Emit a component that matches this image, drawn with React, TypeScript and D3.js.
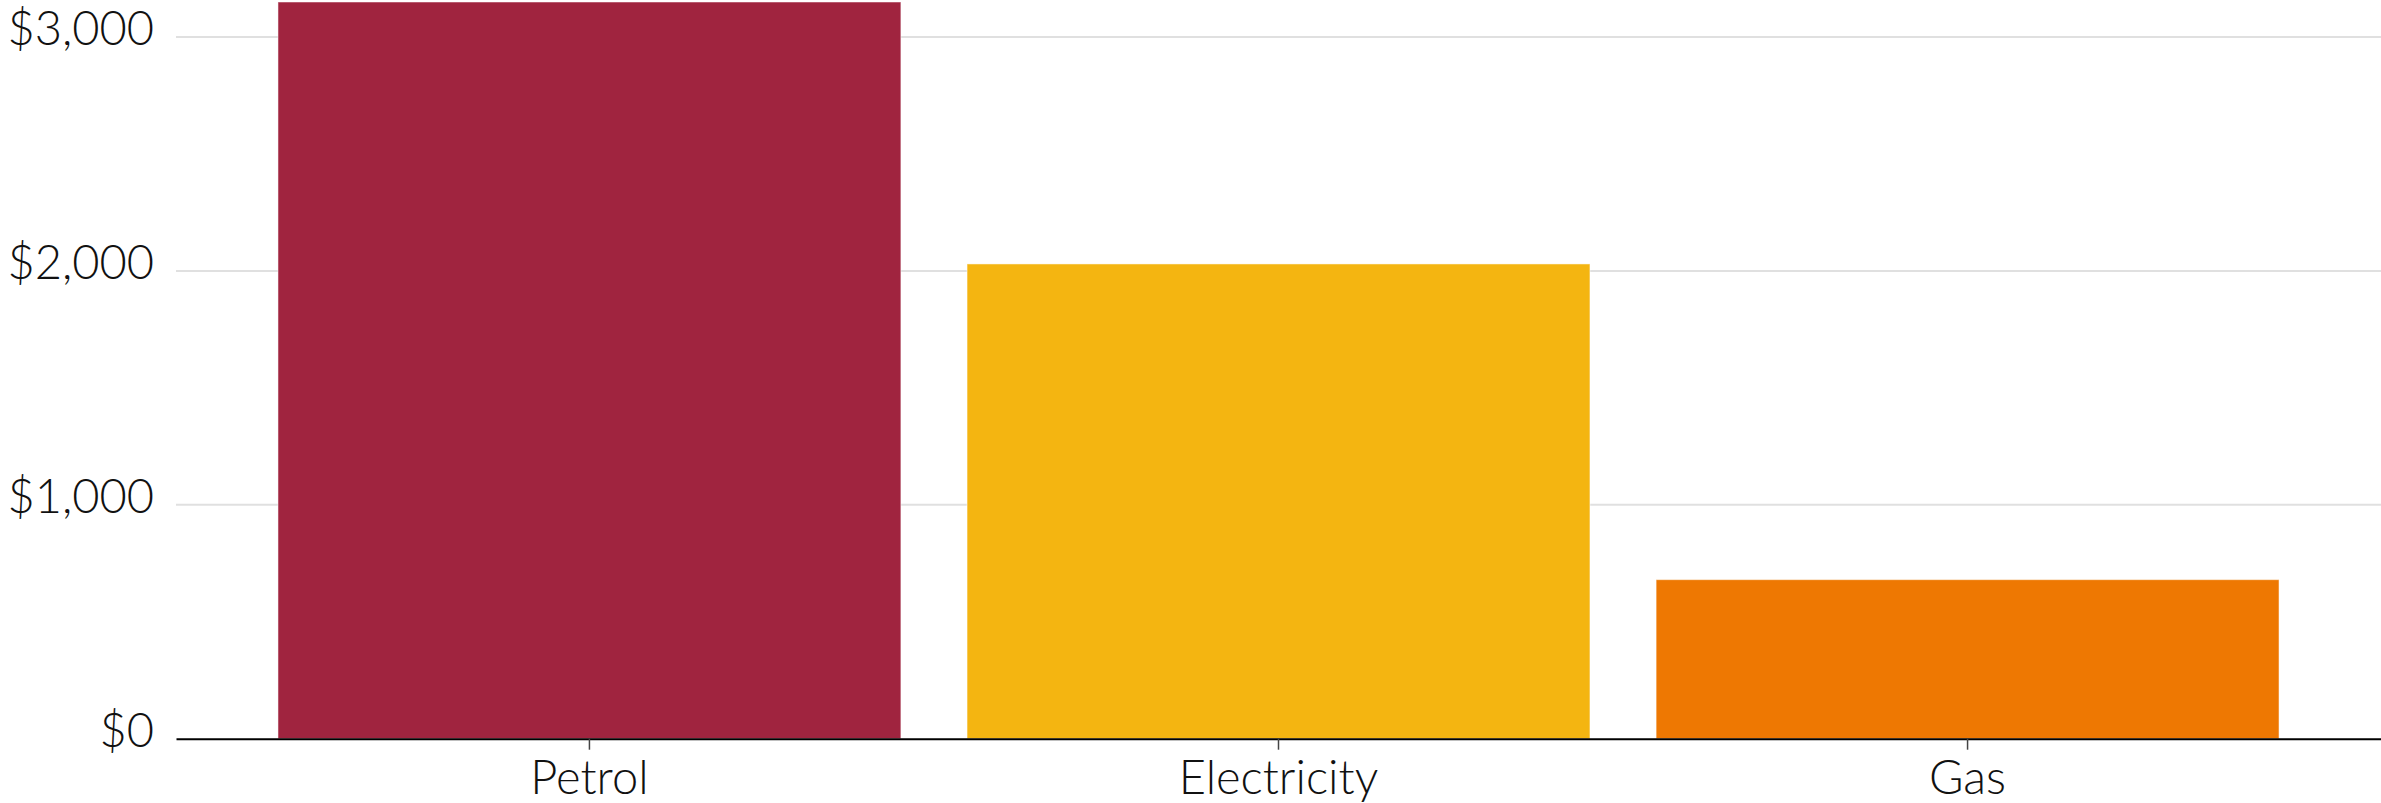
import React, { useEffect, useRef } from 'react';
import * as d3 from 'd3';

const categories = ['Petrol', 'Electricity', 'Gas'];
const costs = [3150, 2030, 680];
const barColors = ['#A0243F', '#F4B511', '#EE7802'];
const yTicks = [0, 1000, 2000, 3000];

const App: React.FC = () => {
  const svgRef = useRef<SVGSVGElement>(null);

  useEffect(() => {
    if (!svgRef.current) return;

    const svg = d3.select(svgRef.current);
    svg.selectAll('*').remove();

    const width = 2381;
    const height = 803;
    const margin = { top: 2, right: 0, bottom: 64, left: 176 };
    const font = 'Lato, "Noto Sans", sans-serif';

    const x = d3
      .scaleBand()
      .domain(categories)
      .range([margin.left, width - margin.right])
      .paddingInner(0.096)
      .paddingOuter(0.148);

    const y = d3
      .scaleLinear()
      .domain([0, 3150])
      .range([height - margin.bottom - 0.3, margin.top]);

    const fmt = (v: number) => '$' + d3.format(',')(v);

    // gridlines
    svg
      .append('g')
      .selectAll('line')
      .data(yTicks.filter((d) => d > 0))
      .enter()
      .append('line')
      .attr('x1', margin.left)
      .attr('x2', width)
      .attr('y1', (d) => y(d))
      .attr('y2', (d) => y(d))
      .attr('stroke', '#e0e0e0')
      .attr('stroke-width', 2);

    // y labels
    svg
      .append('g')
      .selectAll('text')
      .data(yTicks)
      .enter()
      .append('text')
      .attr('x', 154)
      .attr('y', (d) => y(d) + 8)
      .attr('text-anchor', 'end')
      .attr('font-family', font)
      .attr('font-weight', 300)
      .attr('font-size', 47)
      .attr('fill', '#111')
      .text((d) => fmt(d));

    // bars
    svg
      .append('g')
      .selectAll('rect')
      .data(categories)
      .enter()
      .append('rect')
      .attr('x', (d) => x(d) || 0)
      .attr('y', (d, i) => y(costs[i]))
      .attr('width', x.bandwidth())
      .attr('height', (d, i) => y(0) - y(costs[i]))
      .attr('fill', (d, i) => barColors[i])
      .attr('stroke', '#fff')
      .attr('stroke-opacity', 0.5)
      .attr('stroke-width', 1);

    // x axis
    const xAxis = svg
      .append('g')
      .attr('transform', `translate(0,${y(0)})`)
      .call(d3.axisBottom(x).tickSize(11).tickSizeOuter(0).tickPadding(0));

    xAxis.select('.domain').attr('stroke', '#000').attr('stroke-width', 2);
    xAxis.selectAll('.tick line').attr('stroke', '#444').attr('stroke-width', 1.5);
    xAxis
      .selectAll('.tick text')
      .attr('y', 55)
      .attr('dy', 0)
      .attr('font-family', font)
      .attr('font-weight', 300)
      .attr('font-size', 47)
      .attr('fill', '#111');
  }, []);

  return (
    <div style={{ position: 'absolute', left: 0, top: 0, background: '#fff' }}>
      <svg ref={svgRef} width="2381" height="803" style={{ display: 'block' }}></svg>
    </div>
  );
};

export default App;
